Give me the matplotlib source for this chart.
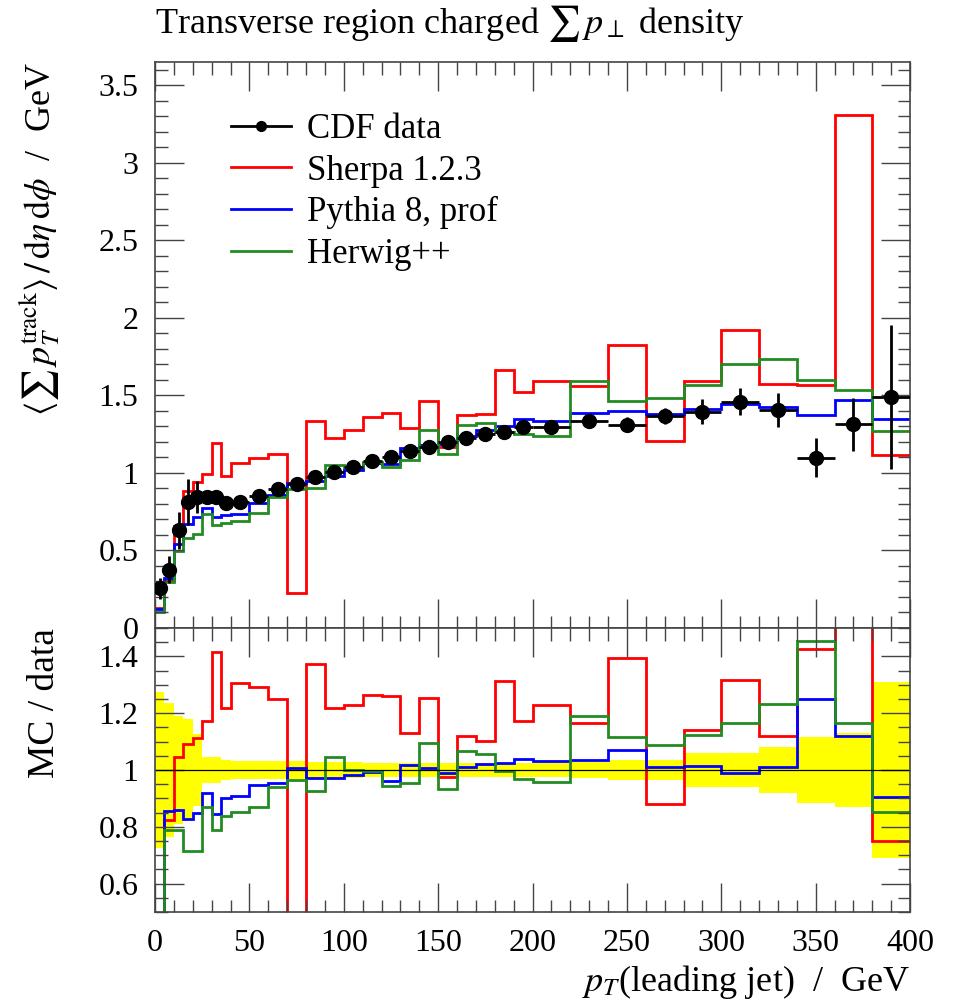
import numpy as np
import matplotlib.pyplot as plt
from matplotlib.lines import Line2D
from matplotlib.ticker import MultipleLocator, FuncFormatter

plt.rcParams['font.family'] = ['Liberation Serif', 'DejaVu Serif']
plt.rcParams['mathtext.fontset'] = 'stix'
plt.rcParams['font.size'] = 23

# bin edges in leading jet pT (GeV)
edges = [0, 5, 10, 15, 20, 25, 30, 35, 40, 50, 60, 70, 80, 90, 100, 110, 120,
         130, 140, 150, 160, 170, 180, 190, 200, 220, 240, 260, 280, 300, 320,
         340, 360, 380, 400]

data = [0.255, 0.377, 0.63, 0.812, 0.845, 0.845, 0.845, 0.806, 0.812, 0.849,
        0.898, 0.93, 0.973, 1.005, 1.037, 1.074, 1.10, 1.14, 1.17, 1.198,
        1.224, 1.252, 1.267, 1.295, 1.295, 1.337, 1.31, 1.367, 1.394, 1.459,
        1.406, 1.099, 1.314, 1.489]
data_err = [0.07, 0.089, 0.12, 0.146, 0.106, 0.039, 0.039, 0.027, 0.025, 0.026,
            0.028, 0.028, 0.029, 0.028, 0.028, 0.028, 0.029, 0.029, 0.029, 0.029,
            0.029, 0.03, 0.03, 0.031, 0.031, 0.04, 0.048, 0.05, 0.081, 0.088,
            0.112, 0.126, 0.171, 0.462]

sherpa = [0.127, 0.311, 0.658, 0.885, 0.941, 0.991, 1.195, 0.983, 1.062, 1.098,
          1.122, 0.227, 1.336, 1.226, 1.274, 1.359, 1.388, 1.29, 1.465, 1.169,
          1.371, 1.38, 1.662, 1.519, 1.59, 1.56, 1.825, 1.203, 1.591, 1.92,
          1.575, 1.567, 3.31, 1.115]
pythia = [0.12, 0.323, 0.541, 0.671, 0.717, 0.777, 0.713, 0.727, 0.737, 0.804,
          0.856, 0.936, 0.947, 0.978, 1.018, 1.066, 1.057, 1.161, 1.177, 1.187,
          1.239, 1.28, 1.30, 1.347, 1.336, 1.384, 1.402, 1.381, 1.414, 1.442,
          1.423, 1.373, 1.469, 1.349]
herwig = [0.105, 0.297, 0.496, 0.58, 0.605, 0.734, 0.666, 0.675, 0.692, 0.739,
          0.845, 0.897, 0.901, 1.051, 1.037, 1.07, 1.038, 1.086, 1.28, 1.119,
          1.308, 1.321, 1.262, 1.252, 1.241, 1.591, 1.462, 1.486, 1.567, 1.70,
          1.735, 1.599, 1.533, 1.27]

labels = ["CDF data", "Sherpa 1.2.3", "Pythia 8, prof", "Herwig++"]
colors = ["black", "#ff0000", "#0000ff", "#228b22"]

edges = np.array(edges, dtype=float)
data = np.array(data)
data_err = np.array(data_err)
centers = 0.5 * (edges[1:] + edges[:-1])
halfw = 0.5 * (edges[1:] - edges[:-1])

fig = plt.figure(figsize=(9.57, 10.01), dpi=100)
W, H = 957, 1001
left, right = 155 / W, 910 / W
ax = fig.add_axes([left, 1 - 628 / H, right - left, (628 - 62) / H])
rax = fig.add_axes([left, 1 - 912 / H, right - left, (912 - 628) / H], sharex=ax)

lw = 2.0
mcs = [sherpa, pythia, herwig]
for vals, c in zip(mcs, colors[1:]):
    ax.stairs(vals, edges, baseline=None, color=c, lw=lw)
ax.errorbar(centers, data, xerr=halfw, yerr=data_err, fmt='o', color='black',
            ms=10, elinewidth=2.0, capsize=0, zorder=5)

# ratio panel
rel = data_err / data
rax.stairs(1 + rel, edges, baseline=1 - rel, fill=True, color='#ffff00', lw=0)
rax.axhline(1.0, color='black', lw=0.9)
for vals, c in zip(mcs, colors[1:]):
    rax.stairs(np.array(vals) / data, edges, baseline=None, color=c, lw=lw)

ax.set_xlim(0, 400)
ax.set_ylim(0, 3.65)
rax.set_ylim(0.5, 1.5)

fmt = FuncFormatter(lambda v, p: ('%g' % round(v, 3)))
for a in (ax, rax):
    a.xaxis.set_major_locator(MultipleLocator(50))
    a.xaxis.set_minor_locator(MultipleLocator(10))
    a.tick_params(which='both', direction='in', top=True, right=True,
                  color='#444444', width=1.0)
    a.tick_params(which='major', length=21)
    a.tick_params(which='minor', length=9)
    a.yaxis.set_major_formatter(fmt)
    for s in a.spines.values():
        s.set_color('#444444')
        s.set_linewidth(1.2)
ax.yaxis.set_major_locator(MultipleLocator(0.5))
ax.yaxis.set_minor_locator(MultipleLocator(0.1))
rax.yaxis.set_major_locator(MultipleLocator(0.2))
rax.yaxis.set_minor_locator(MultipleLocator(0.05))
rax.xaxis.set_major_formatter(fmt)
ax.tick_params(labelbottom=False, pad=12)
rax.tick_params(which='major', pad=12)

ax.set_ylabel(r'$\langle\sum\, p_T^{\mathrm{track}}\rangle\,/\,\mathrm{d}\eta\,\mathrm{d}\phi$  /  GeV',
              loc='top', fontsize=26)
ax.yaxis.set_label_coords(-0.123, 1.0)
rax.set_ylabel('MC / data', loc='top', fontsize=27)
rax.yaxis.set_label_coords(-0.123, 1.0)
rax.set_xlabel(r'$p_T$(leading jet)  /  GeV', loc='right', fontsize=26)

fig.text(left, 1 - 23 / H, r'Transverse region charged $\sum\, p_\perp$ density',
         ha='left', va='center', fontsize=26)

handles = [Line2D([], [], color='black', marker='o', ms=7, lw=2)]
handles += [Line2D([], [], color=c, lw=2) for c in colors[1:]]
ax.legend(handles, labels, loc='upper left', bbox_to_anchor=(0.1, 0.91),
          frameon=False, borderpad=0, borderaxespad=0, handlelength=1.73,
          handletextpad=0.46, labelspacing=0.25, fontsize=25)

fig.savefig('out.png', dpi=100)
